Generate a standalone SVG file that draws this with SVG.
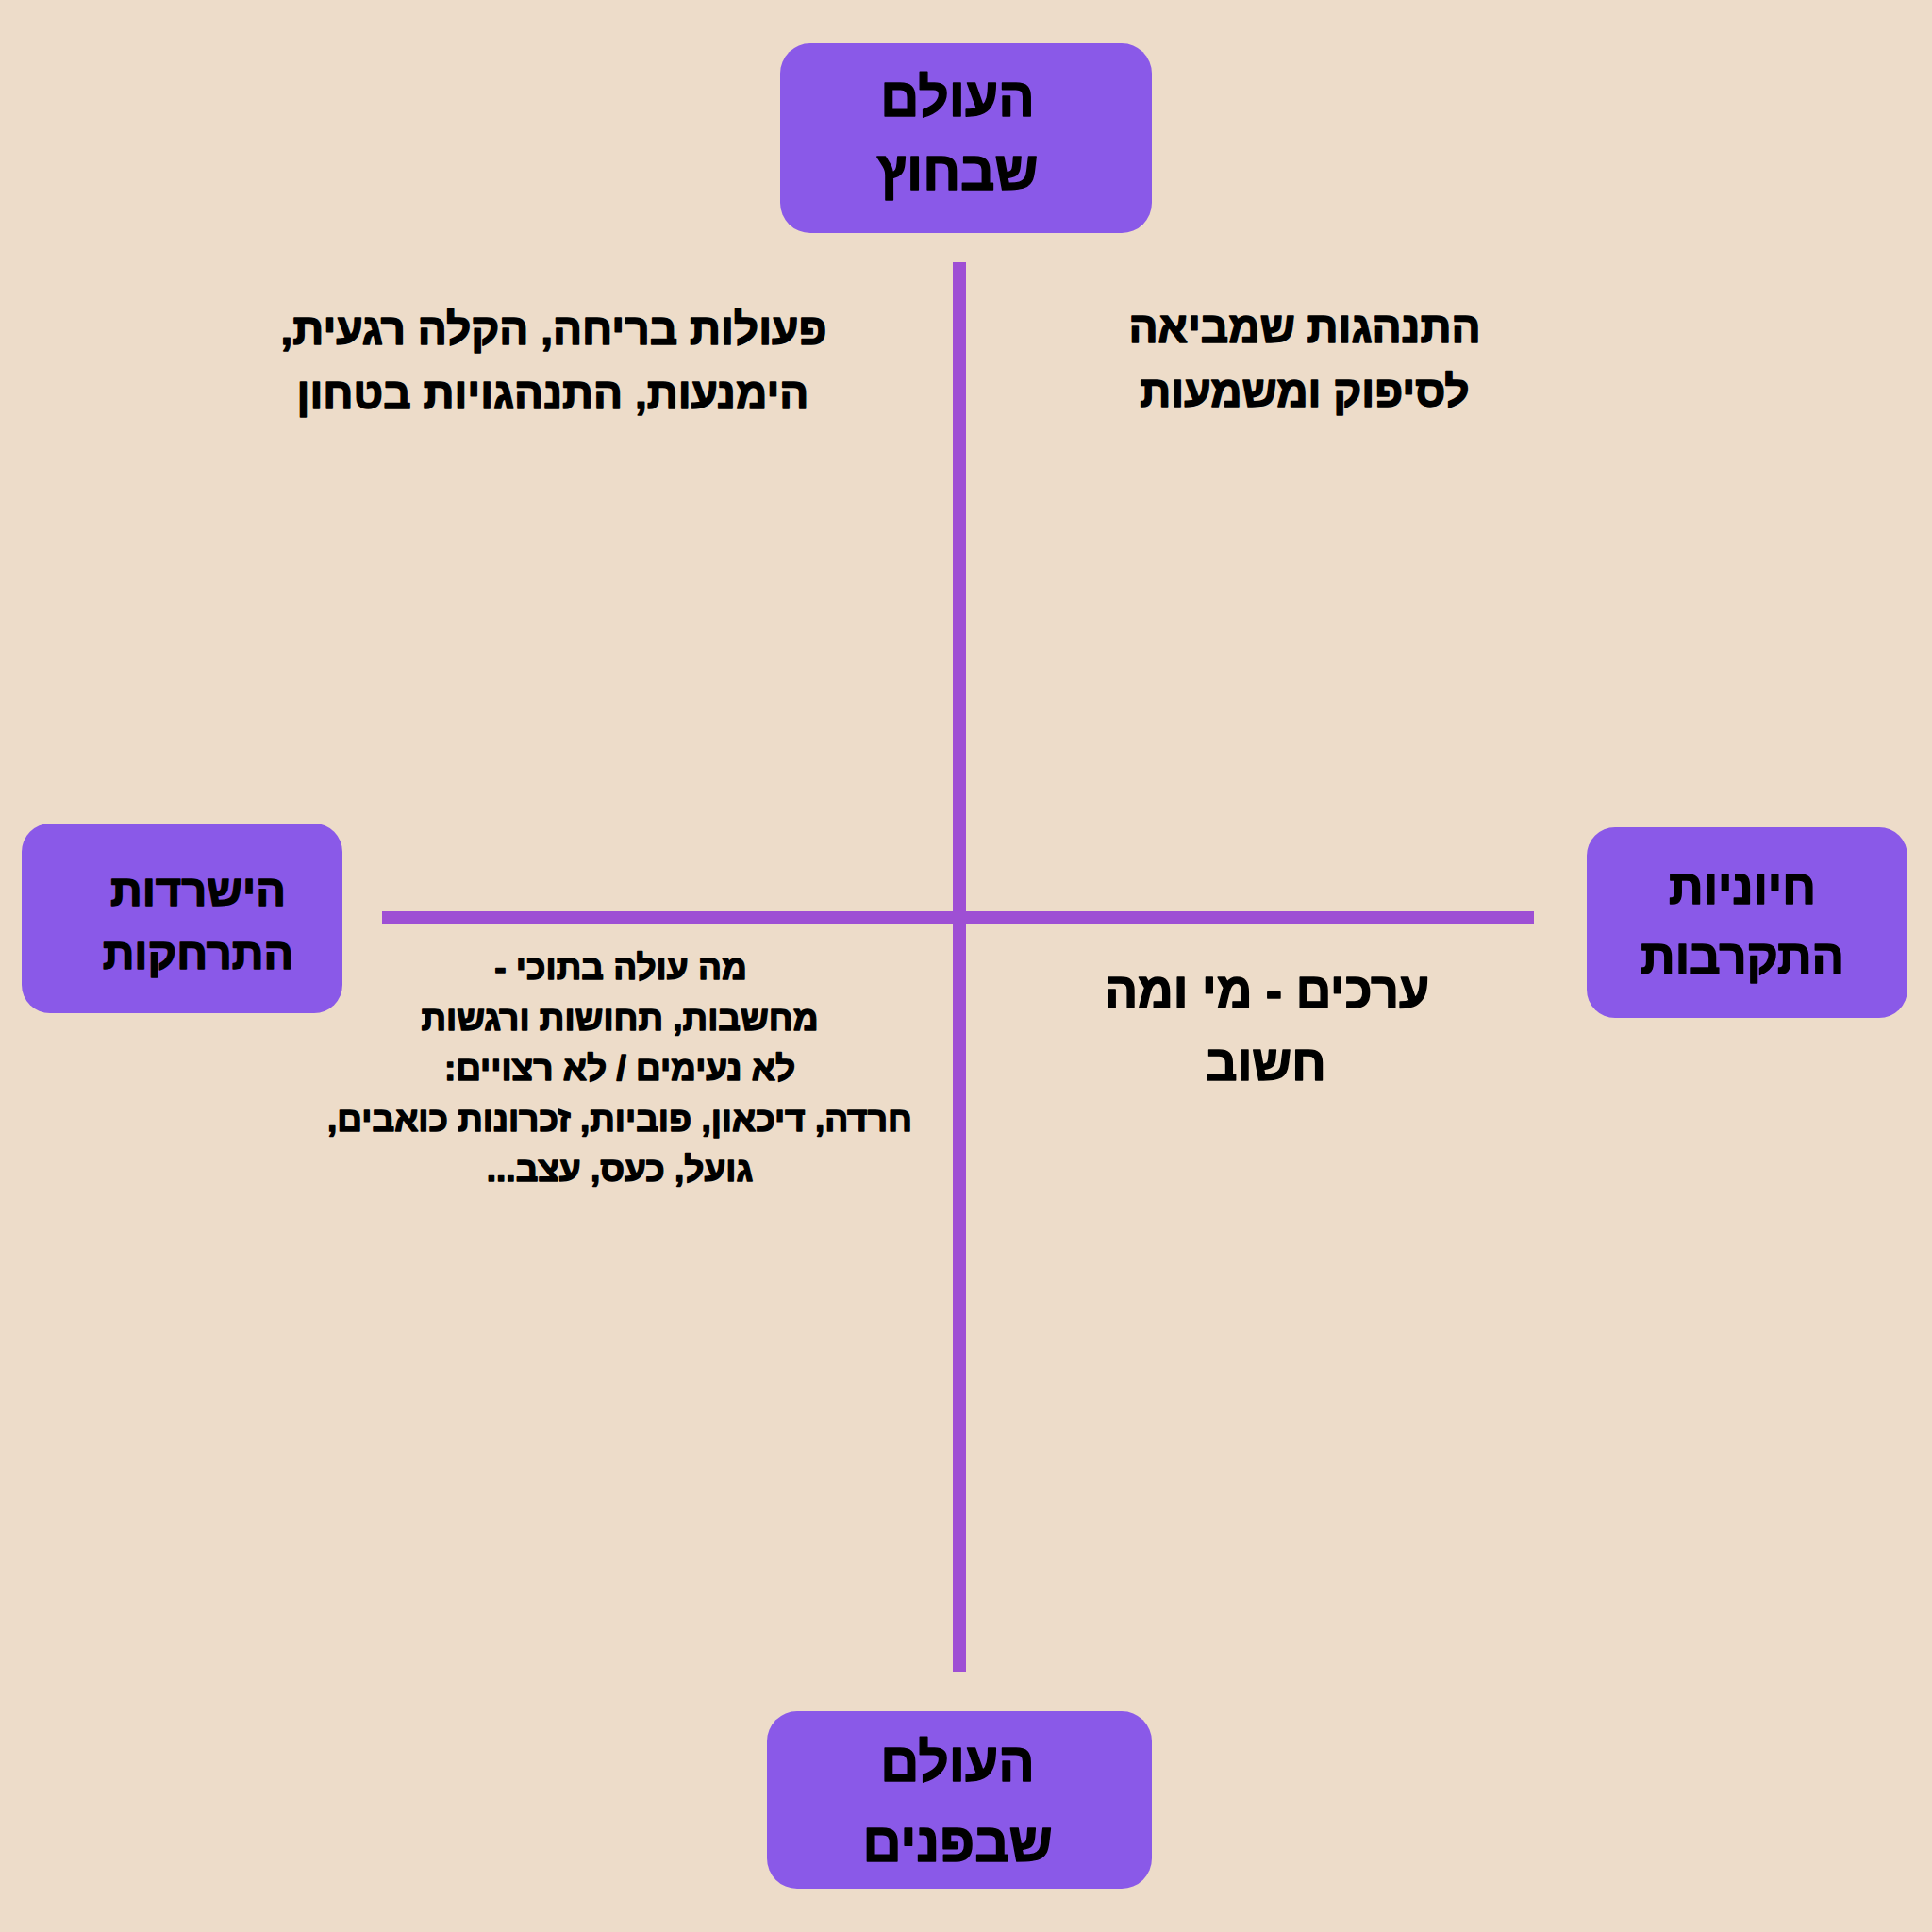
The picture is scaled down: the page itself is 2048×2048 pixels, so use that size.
<svg xmlns="http://www.w3.org/2000/svg" width="2048" height="2048" viewBox="0 0 2048 2048">
<style>
.bg{fill:#EDDCC9}
.box{fill:#8A59E8}
.ln{stroke:#9E4FD4;stroke-width:14;fill:none}
text{font-family:"Liberation Sans","DejaVu Sans",sans-serif;font-weight:700;fill:#000;stroke:#000;stroke-width:1.4;stroke-linejoin:round;text-anchor:middle;direction:rtl}
.t1{font-size:57px}
.t2{font-size:47px}
.t2r{font-size:51px}
.t3{font-size:46px}
.t4{font-size:37px}
.t5{font-size:52px}
</style>
<rect class="bg" x="0" y="0" width="2048" height="2048"/>
<g id="connectors">
<line class="ln" x1="1017" y1="278" x2="1017" y2="1772"/>
<line class="ln" x1="405" y1="973" x2="1626" y2="973"/>
</g>
<g id="node-top">
<rect class="box" x="827" y="46" width="394" height="201" rx="32"/>
<text class="t1" x="1015" y="123">העולם</text>
<text class="t1" x="1015" y="201">שבחוץ</text>
</g>
<g id="node-bottom">
<rect class="box" x="813" y="1814" width="408" height="188" rx="32"/>
<text class="t1" x="1015" y="1888">העולם</text>
<text class="t1" x="1015" y="1973">שבפנים</text>
</g>
<g id="node-left">
<rect class="box" x="23" y="873" width="340" height="201" rx="30"/>
<text class="t2" x="210" y="960">הישרדות</text>
<text class="t2" x="210" y="1027">התרחקות</text>
</g>
<g id="node-right">
<rect class="box" x="1682" y="877" width="340" height="202" rx="30"/>
<text class="t2r" x="1847" y="958">חיוניות</text>
<text class="t2r" x="1847" y="1032">התקרבות</text>
</g>
<g id="text-top-left">
<text class="t3" x="587" y="365">פעולות בריחה, הקלה רגעית,</text>
<text class="t3" x="586" y="433">הימנעות, התנהגויות בטחון</text>
</g>
<g id="text-top-right">
<text class="t3" x="1383" y="363">התנהגות שמביאה</text>
<text class="t3" x="1383" y="431">לסיפוק ומשמעות</text>
</g>
<g id="text-bottom-left">
<text class="t4" x="658" y="1038">מה עולה בתוכי -</text>
<text class="t4" x="657" y="1092">מחשבות, תחושות ורגשות</text>
<text class="t4" x="657" y="1145">לא נעימים / לא רצויים:</text>
<text class="t4" x="657" y="1199">חרדה, דיכאון, פוביות, זכרונות כואבים,</text>
<text class="t4" x="657" y="1252">גועל, כעס, עצב...</text>
</g>
<g id="text-bottom-right">
<text class="t5" x="1343" y="1068">ערכים - מי ומה</text>
<text class="t5" x="1342" y="1145">חשוב</text>
</g>
</svg>
